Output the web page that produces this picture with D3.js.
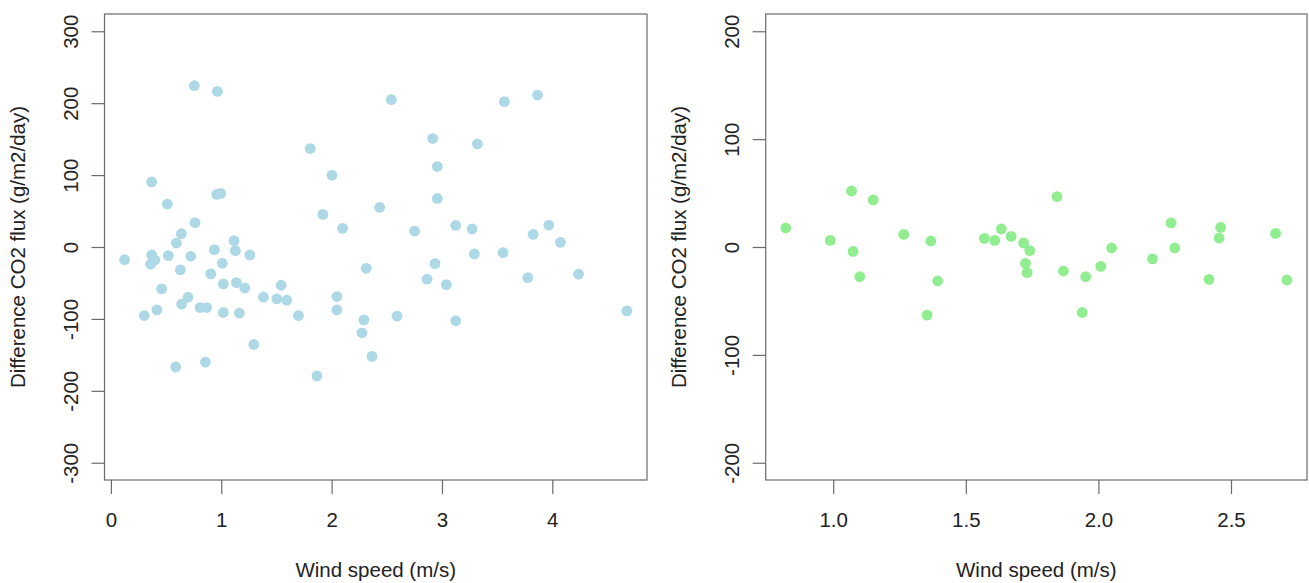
<!DOCTYPE html>
<html>
<head>
<meta charset="utf-8">
<script src="https://cdn.jsdelivr.net/npm/d3@7"></script>
<style>
  body { margin: 0; background: #fff; }
  text { font-family: "Liberation Sans", Arial, sans-serif; fill: #222; }
</style>
</head>
<body>
<div id="chart"></div>
<script>
// datos
const windLeft = [0.124, 0.302, 0.36, 0.369, 0.399, 0.369, 0.417, 0.46, 0.511, 0.52,
  0.587, 0.593, 0.629, 0.638, 0.641, 0.699, 0.723, 0.756, 0.762, 0.808,
  0.856, 0.868, 0.905, 0.938, 0.959, 0.965, 0.995, 1.01, 1.019, 1.019,
  1.116, 1.128, 1.137, 1.164, 1.213, 1.259, 1.295, 1.382, 1.503, 1.543,
  1.594, 1.7, 1.806, 1.867, 1.921, 2.003, 2.048, 2.048, 2.099, 2.275,
  2.293, 2.314, 2.366, 2.435, 2.541, 2.593, 2.752, 2.865, 2.916, 2.937,
  2.958, 2.958, 3.04, 3.125, 3.125, 3.273, 3.294, 3.321, 3.554, 3.566,
  3.778, 3.826, 3.866, 3.968, 4.074, 4.238, 4.676]
const fluxLeft = [-17.6, -95.3, -24, -11.1, -18, 90.6, -87.4, -58.3, 59.6, -12,
  -166.9, 5.5, -31.9, 18.5, -79.5, -69.8, -12.9, 224.3, 33.7, -84.2,
  -160, -84.2, -37.4, -3.7, 73.1, 216.4, 74.5, -22.6, -51.3, -91.1,
  8.8, -5.1, -49.5, -92, -56.9, -11.1, -135.5, -69.8, -72.1, -53.2,
  -74, -95.3, 136.9, -179.4, 45.3, 99.9, -68.9, -87.4, 25.9, -119.3,
  -101.3, -29.6, -152.1, 55.1, 204.9, -96.1, 22.2, -44.8, 150.8, -23.2,
  111.9, 67.5, -52.3, 30.1, -102.6, 25, -9.7, 143.3, -7.9, 202.1,
  -42.6, 17.6, 211.3, 30.5, 6.5, -37.9, -88.8]

const windRight = [0.821, 0.989, 1.069, 1.151, 1.075, 1.1, 1.266, 1.368, 1.394, 1.354,
  1.57, 1.609, 1.634, 1.671, 1.718, 1.741, 1.725, 1.731, 1.844, 1.868,
  1.939, 1.952, 2.009, 2.05, 2.204, 2.274, 2.288, 2.417, 2.461, 2.455,
  2.668, 2.711]
const fluxRight = [17.6, 6.1, 51.9, 43.6, -4.1, -27.6, 11.7, 5.6, -31.5, -63.1,
  8, 6.1, 16.7, 9.8, 3.7, -3.4, -15.2, -23.8, 46.7, -22.3,
  -60.7, -27.6, -18, -0.9, -11.1, 22.3, -0.9, -30, 18.2, 8.3,
  12.6, -30.6]

const xTicksLeft = [0, 1, 2, 3, 4]
const yTicksLeft = [-300, -200, -100, 0, 100, 200, 300]
const xTicksRight = [1.0, 1.5, 2.0, 2.5]
const yTicksRight = [-200, -100, 0, 100, 200]
const ylimLeft = [-300, 300]
const ylimRight = [-200, 200]

const xTitle = "Wind speed (m/s)"
const yTitle = "Difference CO2 flux (g/m2/day)"

const width = 1309
const height = 583
const fontSize = 20.5

const svg = d3.select("div#chart").append("svg")
  .attr("width", width).attr("height", height)

// rango con el 4% extra como en R
const pad = ext => {
  const r = ext[1] - ext[0]
  return [ext[0] - 0.04 * r, ext[1] + 0.04 * r]
}

function panel(opts) {
  const { left, right, top, bottom, xs, ys, xTicks, yTicks, ylim, color, xFormat } = opts

  const x = d3.scaleLinear().domain(pad(d3.extent(xs))).range([left, right])
  const y = d3.scaleLinear().domain(pad(ylim)).range([bottom, top])

  const g = svg.append("g")

  // ejes
  const xAxis = d3.axisBottom(x).tickValues(xTicks).tickSize(14).tickFormat(xFormat)
  const xg = g.append("g").attr("transform", `translate(0, ${bottom})`).call(xAxis)
  xg.select(".domain").remove()
  xg.selectAll("line").attr("stroke", "#6a6a6a").attr("stroke-width", 1.2)
  xg.selectAll("text").attr("y", 46.5).attr("dy", 0)
    .style("font-size", fontSize + "px").attr("fill", "#222")

  // guion normal en los negativos, como en R
  const yAxis = d3.axisLeft(y).tickValues(yTicks).tickSize(13).tickFormat(d => String(d))
  const yg = g.append("g").attr("transform", `translate(${left}, 0)`).call(yAxis)
  yg.select(".domain").remove()
  yg.selectAll("line").attr("stroke", "#6a6a6a").attr("stroke-width", 1.2)
  yg.selectAll("text")
    .attr("x", 0).attr("y", -26.5).attr("dy", 0)
    .attr("transform", "rotate(-90)")
    .attr("text-anchor", "middle")
    .style("font-size", fontSize + "px").attr("fill", "#222")

  // caja
  g.append("rect")
    .attr("x", left).attr("y", top)
    .attr("width", right - left).attr("height", bottom - top)
    .attr("fill", "none").attr("stroke", "#6a6a6a").attr("stroke-width", 1.2)

  // puntos
  g.append("g").selectAll("circle")
    .data(xs.map((d, i) => [d, ys[i]]))
    .join("circle")
    .attr("cx", d => x(d[0]))
    .attr("cy", d => y(d[1]))
    .attr("r", 5.4)
    .attr("fill", color)

  // títulos
  g.append("text")
    .attr("x", (left + right) / 2).attr("y", 577)
    .attr("text-anchor", "middle")
    .style("font-size", fontSize + "px")
    .text(xTitle)

  g.append("text")
    .attr("transform", `translate(${left - 80}, ${(top + bottom) / 2}) rotate(-90)`)
    .attr("text-anchor", "middle")
    .style("font-size", fontSize + "px")
    .text(yTitle)
}

panel({
  left: 104.5, right: 647, top: 14, bottom: 480,
  xs: windLeft, ys: fluxLeft,
  xTicks: xTicksLeft, yTicks: yTicksLeft, ylim: ylimLeft,
  color: "#ADD8E6", xFormat: d3.format("d")
})

panel({
  left: 765.7, right: 1307, top: 14, bottom: 480,
  xs: windRight, ys: fluxRight,
  xTicks: xTicksRight, yTicks: yTicksRight, ylim: ylimRight,
  color: "#90EE90", xFormat: d3.format(".1f")
})
</script>
</body>
</html>
